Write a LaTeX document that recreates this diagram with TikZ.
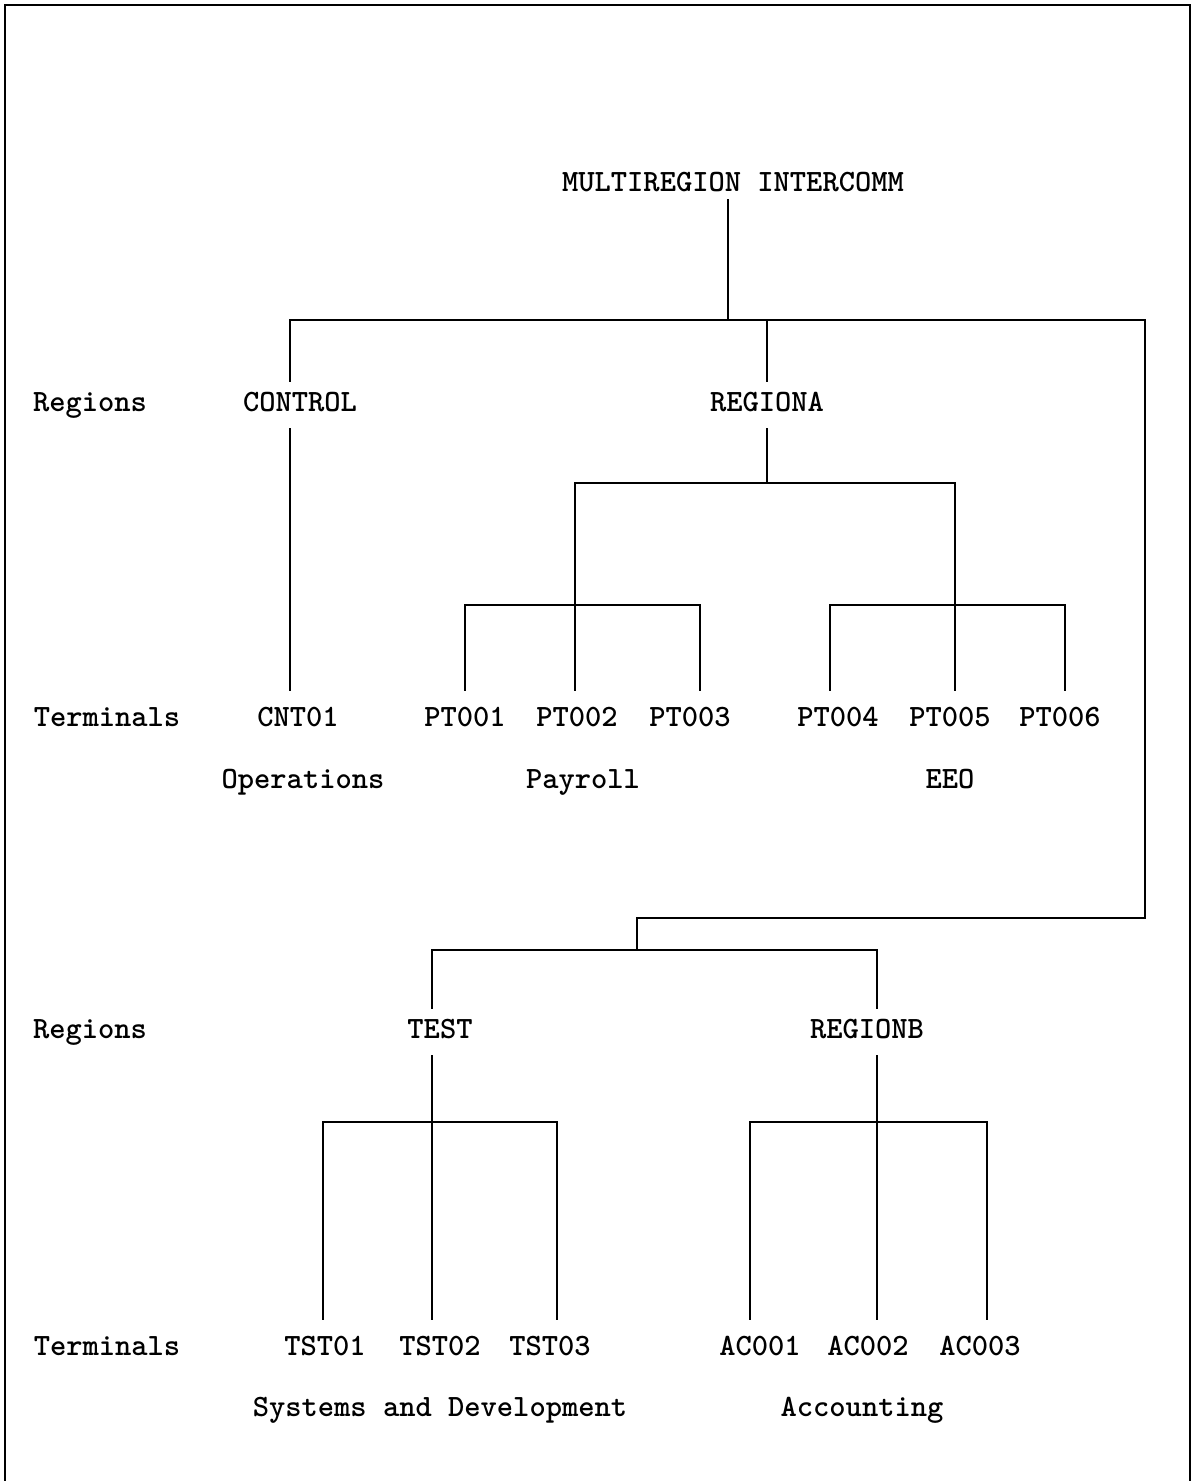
\documentclass[tikz,border=0pt]{standalone}
\usepackage{fontspec}
\begin{document}
\begin{tikzpicture}[x=1pt,y=-1pt,
  tx/.style={inner sep=0pt,anchor=base,text height=18pt,text depth=6pt,font=\ttfamily\bfseries\fontsize{31}{36}\selectfont},
  reg/.style={tx,outer ysep=12pt},
  term/.style={tx,outer ysep=18pt},
  lbl/.style={tx},
  ln/.style={line width=2.8pt,line cap=rect,line join=miter}]
\useasboundingbox (0,0) rectangle (1193,1481);
\draw[line width=2pt] (5,1481) -- (5,5) -- (1190,5) -- (1190,1481);

% texts
\node[tx,outer ysep=3pt] (multi) at (733,191) {MULTIREGION INTERCOMM};
\node[lbl] (reg1) at (90,411) {Regions};
\node[reg] (control) at (300,411) {CONTROL};
\node[reg] (regiona) at (767,411) {REGIONA};
\node[lbl] (term1) at (107,726) {Terminals};
\node[term] (cnt01) at (298,726) {CNT01};
\node[term] (pt001) at (465,726) {PT001};
\node[term] (pt002) at (577,726) {PT002};
\node[term] (pt003) at (690,726) {PT003};
\node[term] (pt004) at (838,726) {PT004};
\node[term] (pt005) at (950,726) {PT005};
\node[term] (pt006) at (1060,726) {PT006};
\node[lbl] (ops) at (303,788) {Operations};
\node[lbl] (pay) at (583,788) {Payroll};
\node[lbl] (eeo) at (950,788) {EEO};
\node[lbl] (reg2) at (90,1038) {Regions};
\node[reg] (test) at (440,1038) {TEST};
\node[reg] (regionb) at (867,1038) {REGIONB};
\node[lbl] (term2) at (107,1355) {Terminals};
\node[term] (tst01) at (325,1355) {TST01};
\node[term] (tst02) at (440,1355) {TST02};
\node[term] (tst03) at (550,1355) {TST03};
\node[term] (ac001) at (760,1355) {AC001};
\node[term] (ac002) at (868,1355) {AC002};
\node[term] (ac003) at (980,1355) {AC003};
\node[lbl] (sad) at (440,1416) {Systems and Development};
\node[lbl] (acc) at (862,1416) {Accounting};

% junctions
\coordinate (topj) at (728,320);
\coordinate (ctlj) at (290,320);
\coordinate (raj) at (767,320);
\coordinate (rtj) at (1145,320);
\coordinate (lowj) at (1145,918);
\coordinate (lowl) at (637,918);
\coordinate (lbar) at (637,950);
\coordinate (testj) at (432,950);
\coordinate (rbj) at (877,950);
\coordinate (rabar) at (767,483);
\coordinate (paj) at (575,483);
\coordinate (eej) at (955,483);
\coordinate (p1) at (465,605);
\coordinate (p3) at (700,605);
\coordinate (e1) at (830,605);
\coordinate (e3) at (1065,605);
\coordinate (t1) at (323,1122);
\coordinate (t3) at (557,1122);
\coordinate (a1) at (750,1122);
\coordinate (a3) at (987,1122);

% connectors
\draw[ln] (multi.south -| topj) -- (topj);
\draw[ln] (control.north -| ctlj) -- (ctlj) -- (rtj) -- (lowj) -- (lowl) -- (lbar);
\draw[ln] (raj) -- (regiona.north -| raj);
\draw[ln] (control.south -| ctlj) -- (cnt01.north -| ctlj);
\draw[ln] (regiona.south -| raj) -- (rabar);
\draw[ln] (pt002.north -| paj) -- (paj) -- (eej) -- (pt005.north -| eej);
\draw[ln] (pt001.north -| p1) -- (p1) -- (p3) -- (pt003.north -| p3);
\draw[ln] (pt004.north -| e1) -- (e1) -- (e3) -- (pt006.north -| e3);
\draw[ln] (test.north -| testj) -- (testj) -- (rbj) -- (regionb.north -| rbj);
\draw[ln] (test.south -| testj) -- (tst02.north -| testj);
\draw[ln] (regionb.south -| rbj) -- (ac002.north -| rbj);
\draw[ln] (tst01.north -| t1) -- (t1) -- (t3) -- (tst03.north -| t3);
\draw[ln] (ac001.north -| a1) -- (a1) -- (a3) -- (ac003.north -| a3);
\end{tikzpicture}
\end{document}
